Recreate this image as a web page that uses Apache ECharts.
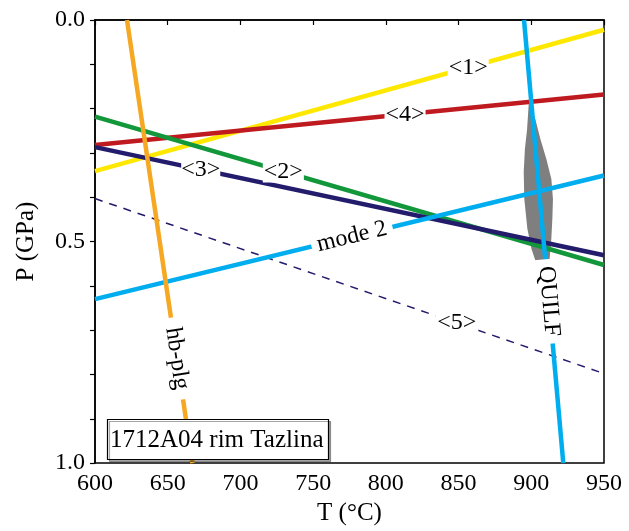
<!DOCTYPE html>
<html>
<head>
<meta charset="utf-8">
<script src="https://cdn.jsdelivr.net/npm/echarts@6/dist/echarts.min.js"></script>
<style>html,body{margin:0;padding:0;background:#fff}#c{width:629px;height:531px}</style>
</head>
<body>
<div id="c"></div>
<script>
// ---- data (T in °C, P in GPa) ----
const line1 = [[600, 0.341], [950, 0.022]];   // <1>
const line2 = [[600, 0.218], [950, 0.553]];   // <2>
const line3 = [[600, 0.287], [950, 0.531]];   // <3>
const line4 = [[600, 0.282], [950, 0.168]];   // <4>
const line5 = [[600, 0.403], [950, 0.798]];   // <5> dashed
const mode2 = [[600, 0.630], [950, 0.351]];
const quilf = [[895, 0.0], [922, 1.0]];
const hbplg = [[622, 0.0], [667, 1.0]];
const lens = [
  [898.3, 0.186], [902.8, 0.224], [906.3, 0.269], [910.4, 0.314], [913.8, 0.359],
  [914.9, 0.404], [914.5, 0.448], [913.8, 0.493], [912.5, 0.543], [902.8, 0.543],
  [900.1, 0.516], [897.3, 0.471], [895.2, 0.404], [894.8, 0.343], [895.6, 0.291],
  [897.1, 0.247]
];
const labelTexts = ['<1>', '<2>', '<3>', '<4>', '<5>', 'mode 2', 'QUILF', 'hb-plg'];
const labelPoints = [
  [856.6, 0.108], [729.5, 0.342], [672.7, 0.338], [813.2, 0.213],
  [848.8, 0.684], [776.7, 0.489], [912.1, 0.635], [656.4, 0.764]
];
const xTicks = { min: 600, max: 950, step: 50 };
const yTicks = { min: 0, max: 1, step: 0.1 };
const sampleName = '1712A04 rim Tazlina';

// ---- styles ----
const FONT = 'Liberation Serif';
const labelRotate = [0, 0, 0, 0, 0, 13.8, -85, -81.7];
const labelPadding = [[0, 1], [0, 1], [0, 0], [0, 1], [0, 2], [0, 6], [0, 7], [0, 10]];

function lineSeries(data, color, width, type, z) {
  return {
    type: 'line', data: data, symbol: 'none', silent: true, z: z,
    lineStyle: { color: color, width: width, type: type || 'solid', cap: 'butt' }
  };
}

const chart = echarts.init(document.getElementById('c'), null, { renderer: 'canvas' });
chart.setOption({
  animation: false,
  backgroundColor: '#fff',
  title: {
    text: sampleName, left: 107, top: 419, z: 20,
    backgroundColor: '#fff', borderColor: '#000', borderWidth: 1.2,
    padding: [6, 5, 5, 3],
    shadowColor: 'rgba(0,0,0,0.35)', shadowOffsetX: 2, shadowOffsetY: 2, shadowBlur: 0,
    textStyle: { fontFamily: FONT, fontSize: 25, fontWeight: 'normal', color: '#000', lineHeight: 30 }
  },
  grid: { left: 95, right: 25, top: 20, bottom: 65, show: true, borderColor: '#000', borderWidth: 1.5, backgroundColor: 'transparent' },
  xAxis: {
    type: 'value', min: xTicks.min, max: xTicks.max, interval: xTicks.step,
    name: 'T (°C)', nameLocation: 'middle', nameGap: 36,
    nameTextStyle: { fontFamily: FONT, fontSize: 25, color: '#000' },
    axisLine: { show: true, lineStyle: { color: '#000', width: 1.5 } },
    axisTick: { show: true, length: 5, lineStyle: { color: '#000', width: 1.2 } },
    axisLabel: { fontFamily: FONT, fontSize: 24, color: '#000', margin: 9 },
    splitLine: { show: false }
  },
  yAxis: {
    type: 'value', inverse: true, min: yTicks.min, max: yTicks.max, interval: yTicks.step,
    name: 'P (GPa)', nameLocation: 'middle', nameGap: 56,
    nameTextStyle: { fontFamily: FONT, fontSize: 25, color: '#000' },
    axisLine: { show: true, lineStyle: { color: '#000', width: 1.5 } },
    axisTick: { show: true, length: 5, lineStyle: { color: '#000', width: 1.2 } },
    axisLabel: {
      fontFamily: FONT, fontSize: 24, color: '#000', margin: 10,
      formatter: function (v) { return Math.round(v * 10) % 5 === 0 ? v.toFixed(1) : ''; }
    },
    splitLine: { show: false }
  },
  series: [
    {
      type: 'custom', silent: true, z: 1, data: lens,
      renderItem: function (params, api) {
        if (params.dataIndex !== 0) return null;
        return {
          type: 'polygon',
          shape: { points: lens.map(function (p) { return api.coord(p); }) },
          style: { fill: '#7f7f7f' }
        };
      }
    },
    lineSeries(line1, '#FFE800', 4.5, 'solid', 2),
    lineSeries(line4, '#BE1A20', 4.5, 'solid', 2),
    lineSeries(line2, '#13973B', 4.5, 'solid', 2),
    lineSeries(line3, '#231B6C', 4.5, 'solid', 2),
    lineSeries(line5, '#231B6C', 1.5, [8, 7], 2),
    lineSeries(mode2, '#00ADEE', 4.5, 'solid', 3),
    lineSeries(quilf, '#00ADEE', 4.5, 'solid', 3),
    lineSeries(hbplg, '#F6A823', 4.5, 'solid', 4),
    {
      type: 'scatter', silent: true, z: 10, symbolSize: 2,
      itemStyle: { color: 'rgba(0,0,0,0)', opacity: 1 },
      labelLayout: { hideOverlap: false },
      data: labelPoints.map(function (p, i) {
        return {
          value: p,
          label: {
            show: true, position: 'inside', formatter: labelTexts[i],
            rotate: labelRotate[i], padding: labelPadding[i]
          }
        };
      }),
      label: {
        show: true, position: 'inside', fontFamily: FONT, fontSize: 24, color: '#000',
        textBorderWidth: 0, opacity: 1,
        backgroundColor: '#fff', lineHeight: 22, align: 'center', verticalAlign: 'middle'
      }
    }
  ]
});
</script>
</body>
</html>
